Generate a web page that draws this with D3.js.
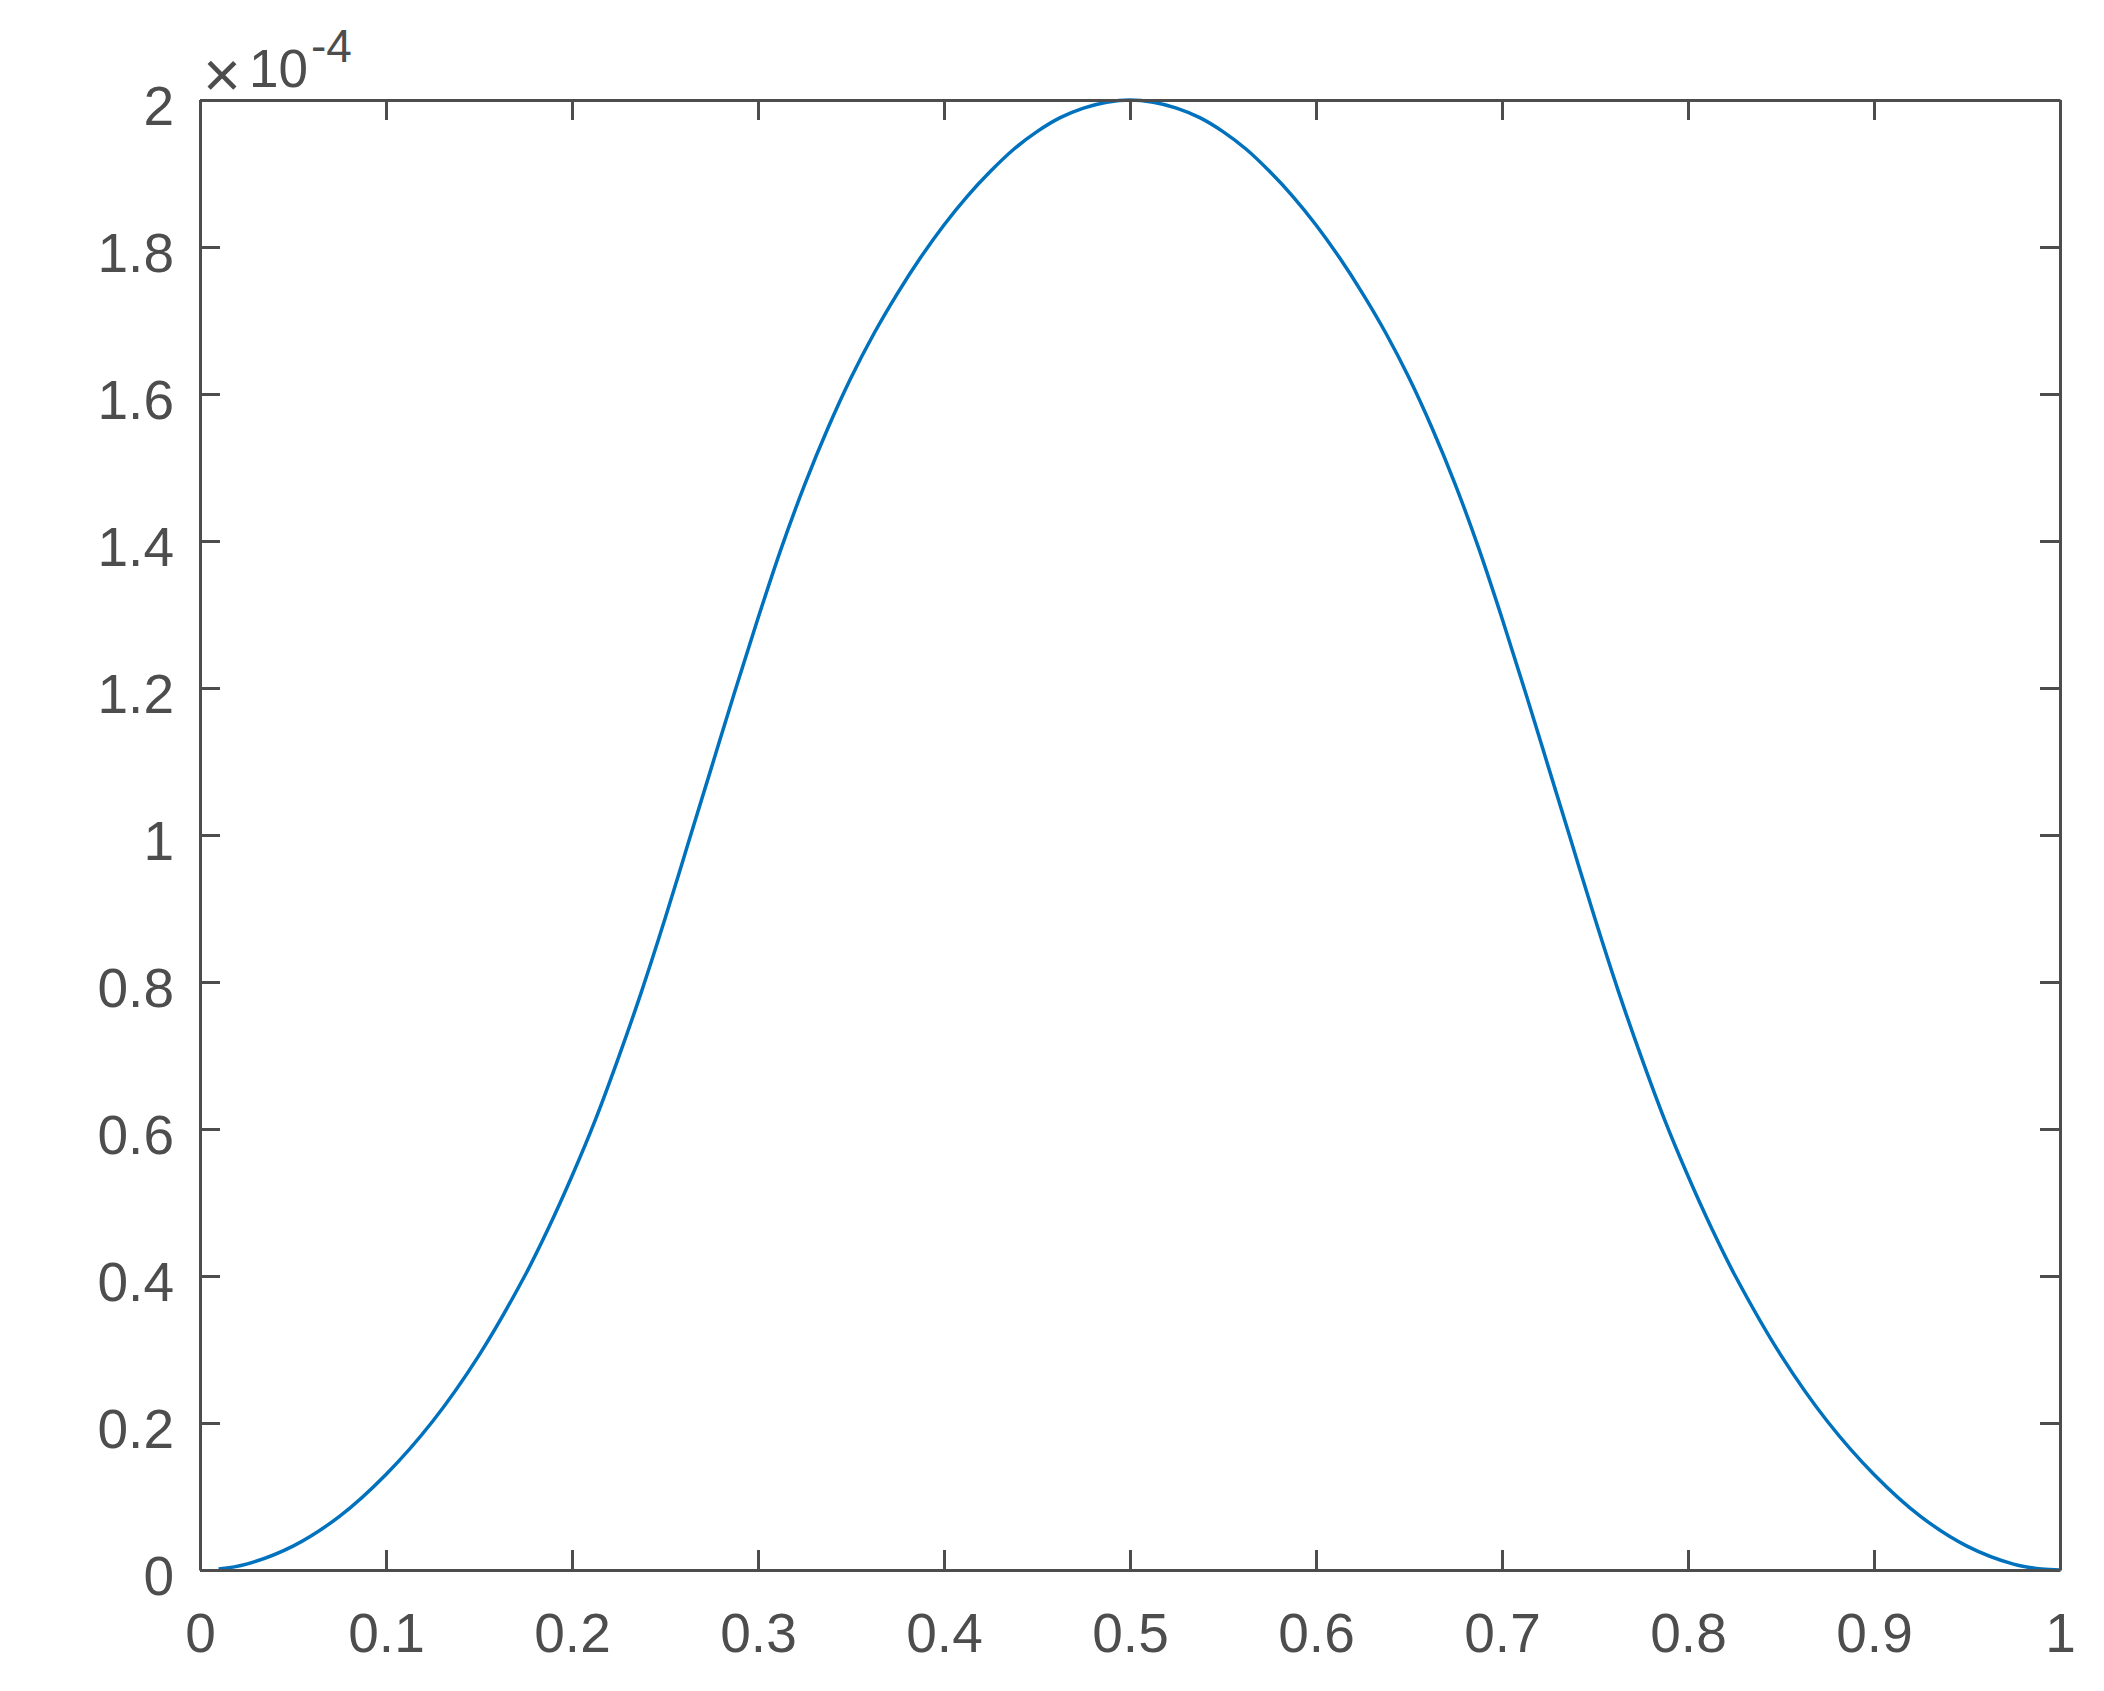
<!DOCTYPE html>
<html>
<head>
<meta charset="utf-8">
<script src="https://cdn.jsdelivr.net/npm/d3@7"></script>
<style>
  body { margin: 0; background: #fff; }
  .chart text { font-family: "Liberation Sans", Arial, Helvetica, sans-serif; fill: #4d4d4d; }
</style>
</head>
<body>
<div class="chart"></div>
<script>
// values (y in units of 1e-4)
var xValues = [0.01, 0.025, 0.05, 0.075, 0.1, 0.125, 0.15, 0.175, 0.1875, 0.2, 0.2125, 0.225, 0.2375, 0.25, 0.2625, 0.275, 0.2875,
  0.3, 0.3125, 0.325, 0.3375, 0.35, 0.3625, 0.375, 0.3875, 0.4, 0.4125, 0.425, 0.4375, 0.45, 0.4625, 0.475, 0.4875, 0.5,
  0.5125, 0.525, 0.5375, 0.55, 0.5625, 0.575, 0.5875, 0.6, 0.6125, 0.625, 0.6375, 0.65, 0.6625, 0.675, 0.6875, 0.7,
  0.7125, 0.725, 0.7375, 0.75, 0.7625, 0.775, 0.7875, 0.8, 0.8125, 0.825, 0.85, 0.875, 0.9, 0.925, 0.95, 0.975, 0.99, 1.0];
var yValues = [0.0013, 0.008, 0.0325, 0.073, 0.13, 0.202, 0.292, 0.402, 0.466, 0.536, 0.612, 0.697, 0.788, 0.886, 0.989, 1.092, 1.195,
  1.295, 1.39, 1.476, 1.553, 1.622, 1.683, 1.737, 1.786, 1.83, 1.869, 1.903, 1.933, 1.957, 1.976, 1.989, 1.997, 2.0,
  1.997, 1.989, 1.976, 1.957, 1.933, 1.903, 1.869, 1.83, 1.786, 1.737, 1.683, 1.622, 1.553, 1.476, 1.39, 1.295,
  1.195, 1.092, 0.989, 0.886, 0.788, 0.697, 0.612, 0.536, 0.466, 0.402, 0.292, 0.202, 0.13, 0.073, 0.0325, 0.008, 0.0013, 0.0];
var xTicks = [0, 0.1, 0.2, 0.3, 0.4, 0.5, 0.6, 0.7, 0.8, 0.9, 1];
var yTicks = [0, 0.2, 0.4, 0.6, 0.8, 1, 1.2, 1.4, 1.6, 1.8, 2];

var svgWidth = 2104;
var svgHeight = 1691;
var margin = { top: 100, right: 44, bottom: 121, left: 200 };
var width = svgWidth - margin.left - margin.right;
var height = svgHeight - margin.top - margin.bottom;

var axisColor = "#4d4d4d";
var fontSize = 55;

var svg = d3.select(".chart")
  .append("svg")
  .attr("width", svgWidth)
  .attr("height", svgHeight)
  .style("display", "block");

svg.append("rect").attr("width", svgWidth).attr("height", svgHeight).attr("fill", "#fff");

var chart = svg.append("g")
  .attr("transform", "translate(" + margin.left + "," + margin.top + ")");

var xScale = d3.scaleLinear().domain([0, 1]).range([0, width]);
var yScale = d3.scaleLinear().domain([0, 2]).range([height, 0]);

var points = xValues.map(function(x, i) { return [x, yValues[i]]; });

// the curve
var line = d3.line()
  .x(function(d) { return xScale(d[0]); })
  .y(function(d) { return yScale(d[1]); })
  .curve(d3.curveCatmullRom.alpha(0.5));

chart.append("path")
  .datum(points)
  .attr("fill", "none")
  .attr("stroke", "#0072bd")
  .attr("stroke-width", 3.5)
  .attr("stroke-linejoin", "round")
  .attr("d", line);

// axes, ticks pointing inward on all four sides
function styleAxis(g) {
  g.selectAll("path.domain").attr("stroke", axisColor).attr("stroke-width", 3);
  g.selectAll(".tick line").attr("stroke", axisColor).attr("stroke-width", 3);
  g.selectAll("text").attr("font-size", fontSize).attr("fill", axisColor)
    .attr("font-family", "Liberation Sans, Arial, sans-serif");
}

var bottomAxis = d3.axisBottom(xScale).tickValues(xTicks).tickSizeInner(-20).tickSizeOuter(0)
  .tickFormat(d3.format("~g"));
var topAxis = d3.axisTop(xScale).tickValues(xTicks).tickSizeInner(-20).tickSizeOuter(0).tickFormat("");
var leftAxis = d3.axisLeft(yScale).tickValues(yTicks).tickSizeInner(-20).tickSizeOuter(0)
  .tickFormat(d3.format("~g"));
var rightAxis = d3.axisRight(yScale).tickValues(yTicks).tickSizeInner(-20).tickSizeOuter(0).tickFormat("");

var gx = chart.append("g").attr("transform", "translate(0," + height + ")").call(bottomAxis).call(styleAxis);
gx.selectAll("text").attr("y", 82).attr("dy", null);

chart.append("g").call(topAxis).call(styleAxis);

var gy = chart.append("g").call(leftAxis).call(styleAxis);
gy.selectAll("text").attr("x", -26).attr("dy", 24);

chart.append("g").attr("transform", "translate(" + width + ",0)").call(rightAxis).call(styleAxis);

// exponent label
svg.append("text")
  .attr("x", 203).attr("y", 97)
  .attr("font-size", 65)
  .attr("fill", axisColor)
  .text("\u00d7");
var expo = svg.append("text")
  .attr("y", 87)
  .attr("font-size", 53)
  .attr("fill", axisColor);
expo.append("tspan").attr("x", 249).text("10");
expo.append("tspan").attr("x", 311).attr("dy", -25).attr("font-size", 46).text("-4");
</script>
</body>
</html>
